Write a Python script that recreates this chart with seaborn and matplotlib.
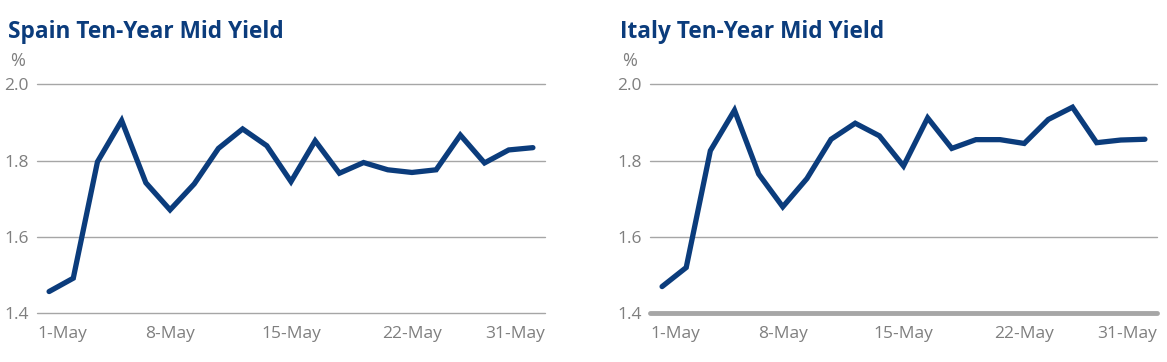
import numpy as np
import pandas as pd
import matplotlib
matplotlib.use("Agg")
import matplotlib.pyplot as plt
import matplotlib.transforms as mtransforms
import seaborn as sns

# Business days of May (21 trading sessions)
days = ["1-May", "4-May", "5-May", "6-May", "7-May", "8-May",
        "11-May", "12-May", "13-May", "14-May", "15-May",
        "18-May", "19-May", "20-May", "21-May", "22-May",
        "25-May", "26-May", "27-May", "28-May", "29-May"]

spain_yield = [1.457, 1.492, 1.797, 1.905, 1.742, 1.671, 1.739, 1.832, 1.883, 1.839, 1.745,
               1.852, 1.767, 1.795, 1.776, 1.769, 1.776, 1.867, 1.794, 1.828, 1.834]

italy_yield = [1.470, 1.520, 1.826, 1.932, 1.765, 1.679, 1.753, 1.856, 1.898, 1.865, 1.786,
               1.912, 1.832, 1.855, 1.855, 1.845, 1.908, 1.940, 1.847, 1.854, 1.856]

tick_pos = [0, 5, 10, 15, 20]
tick_labels = ["1-May", "8-May", "15-May", "22-May", "31-May"]
y_ticks = [1.4, 1.6, 1.8, 2.0]

titles = ["Spain Ten-Year Mid Yield", "Italy Ten-Year Mid Yield"]

LINE = "#0b3c7c"
GRID = "#a6a6a6"
TEXT = "#7f7f7f"

sns.set_theme(style="white")
plt.rcParams["font.family"] = ["Open Sans", "DejaVu Sans"]

df = pd.DataFrame({
    "pos": list(range(len(days))) * 2,
    "yield": spain_yield + italy_yield,
    "country": ["Spain"] * len(days) + ["Italy"] * len(days),
})

fig = plt.figure(figsize=(11.67, 3.62), dpi=100)
W, H = 1167, 362
panels = [
    (37, 545, 8, "Spain"),
    (650, 1157, 620, "Italy"),
]
top, bottom = 84.3, 313.3

for (left, right, tx, country), title in zip(panels, titles):
    ax = fig.add_axes([left / W, 1 - bottom / H, (right - left) / W, (bottom - top) / H])
    sub = df[df["country"] == country]
    sns.lineplot(data=sub, x="pos", y="yield", ax=ax, color=LINE, linewidth=3.8,
                 solid_capstyle="round", solid_joinstyle="miter", zorder=3)
    ax.set_xlim(-0.5, len(days) - 0.5)
    ax.set_ylim(1.4, 2.0)
    ax.set_yticks(y_ticks)
    ax.set_yticklabels([f"{v:.1f}" for v in y_ticks])
    for v in y_ticks:
        ax.axhline(v, color=GRID, linewidth=1.0, zorder=1, clip_on=False)
    if country == "Italy":
        ax.axhline(1.4, color=GRID, linewidth=3.5, zorder=2, clip_on=False)
    ax.set_xticks(tick_pos)
    ax.set_xticklabels(tick_labels)
    ax.set_xlabel("")
    ax.set_ylabel("")
    for s in ax.spines.values():
        s.set_visible(False)
    ax.tick_params(axis="both", length=0, colors=TEXT, labelsize=12.5)
    ax.tick_params(axis="y", pad=6)
    ax.tick_params(axis="x", pad=9)
    labels = ax.get_xticklabels()
    labels[0].set_ha("left")
    labels[0].set_transform(labels[0].get_transform() +
                            mtransforms.ScaledTranslation(-12 / 100, 0, fig.dpi_scale_trans))
    labels[-1].set_ha("right")
    labels[-1].set_transform(labels[-1].get_transform() +
                             mtransforms.ScaledTranslation(12 / 100, 0, fig.dpi_scale_trans))
    fig.text(tx / W, 1 - 37.5 / H, title, color="#0b3c7c", fontsize=16.3,
             fontweight="bold", ha="left", va="baseline")
    fig.text((tx + 2) / W, 1 - 66 / H, "%", color=TEXT, fontsize=13, ha="left", va="baseline")

fig.savefig("out.png", dpi=100)
